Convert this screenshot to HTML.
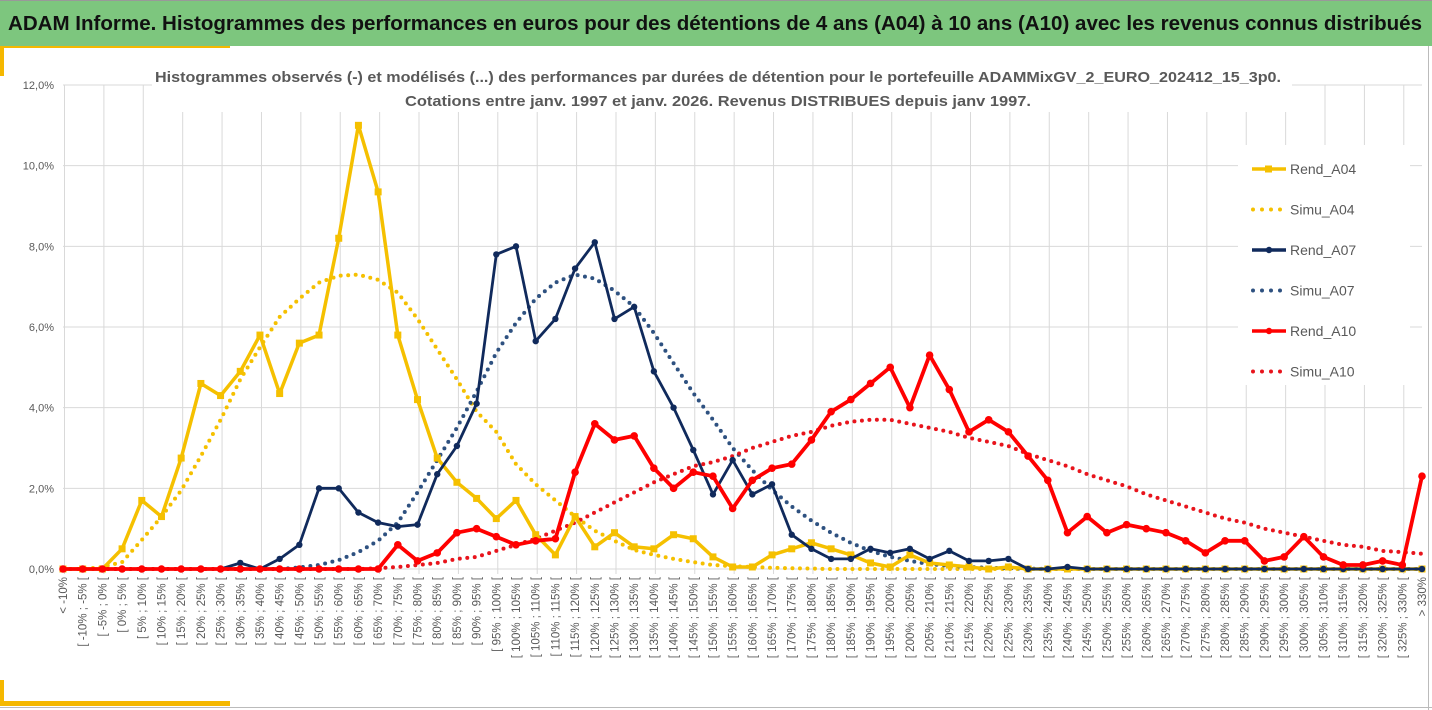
<!DOCTYPE html>
<html><head><meta charset="utf-8"><style>
html,body{margin:0;padding:0;background:#fff;}
svg{display:block;font-family:"Liberation Sans",sans-serif;}
</style></head><body>
<svg id="chart" width="1432" height="710" viewBox="0 0 1432 710" xmlns="http://www.w3.org/2000/svg">
<rect x="0" y="0" width="1432" height="710" fill="#fff"/>
<rect x="0" y="1" width="1432" height="45" fill="#7dc67e"/>
<line x1="0" y1="0.5" x2="1432" y2="0.5" stroke="#999" stroke-width="1"/>
<text x="8" y="30" font-size="20" font-weight="bold" fill="#111" textLength="1414" lengthAdjust="spacingAndGlyphs">ADAM Informe. Histogrammes des performances en euros pour des détentions de 4 ans (A04) à 10 ans (A10) avec les revenus connus distribués</text>
<rect x="0" y="46" width="230" height="2" fill="#f5b800"/>
<rect x="0" y="46" width="4" height="30" fill="#f5b800"/>
<rect x="0" y="701" width="230" height="5" fill="#f5b800"/>
<rect x="0" y="680" width="4" height="26" fill="#f5b800"/>
<line x1="1428.5" y1="46" x2="1428.5" y2="710" stroke="#bbb"/>
<line x1="0" y1="707.5" x2="1432" y2="707.5" stroke="#bbb"/>
<g id="grid"></g>
<rect x="152" y="62" width="1140" height="50" fill="#fff"/>
<text x="718" y="82" font-size="15" font-weight="bold" fill="#595959" text-anchor="middle" textLength="1126" lengthAdjust="spacingAndGlyphs">Histogrammes observés (-) et modélisés (...) des performances par durées de détention pour  le portefeuille ADAMMixGV_2_EURO_202412_15_3p0.</text>
<text x="718" y="106" font-size="15" font-weight="bold" fill="#595959" text-anchor="middle" textLength="626" lengthAdjust="spacingAndGlyphs">Cotations  entre janv. 1997 et janv. 2026. Revenus DISTRIBUES depuis janv 1997.</text>
<g id="series"></g>
<g id="xlabels"></g>
<g id="legend"></g>
</svg>
<script>
const categories = ["< -10%"];
for (let a = -10; a < 330; a += 5) categories.push("[ " + a + "% ; " + (a + 5) + "% [");
categories.push("> 330%");
const yTicks = [0, 2, 4, 6, 8, 10, 12];
const yTickLabels = ["0,0%", "2,0%", "4,0%", "6,0%", "8,0%", "10,0%", "12,0%"];
const rendA04 = [0,0,0,0.5,1.7,1.3,2.75,4.6,4.3,4.9,5.8,4.35,5.6,5.8,8.2,11.0,9.35,5.8,4.2,2.75,2.15,1.75,1.25,1.7,0.85,0.35,1.3,0.55,0.9,0.55,0.5,0.85,0.75,0.3,0.05,0.05,0.35,0.5,0.65,0.5,0.35,0.15,0.05,0.35,0.15,0.1,0.05,0,0.05,0,0,0,0,0,0,0,0,0,0,0,0,0,0,0,0,0,0,0,0,0];
const simuA04 = [0,0,0.05,0.17,0.72,1.3,1.95,2.8,3.7,4.7,5.5,6.25,6.7,7.1,7.27,7.3,7.17,6.85,6.2,5.45,4.7,3.9,3.4,2.6,2.1,1.7,1.3,0.95,0.7,0.47,0.35,0.25,0.17,0.1,0.07,0.05,0.03,0.02,0.01,0,0,0,0,0,0,0,0,0,0,0,0,0,0,0,0,0,0,0,0,0,0,0,0,0,0,0,0,0,0,0];
const rendA07 = [0,0,0,0,0,0,0,0,0,0.15,0,0.25,0.6,2.0,2.0,1.4,1.15,1.05,1.1,2.35,3.05,4.1,7.8,8.0,5.65,6.2,7.45,8.1,6.2,6.5,4.9,4.0,2.95,1.85,2.7,1.85,2.1,0.85,0.5,0.25,0.25,0.5,0.4,0.5,0.25,0.45,0.2,0.2,0.25,0,0,0.05,0,0,0,0,0,0,0,0,0,0,0,0,0,0,0,0,0,0];
const simuA07 = [0,0,0,0,0,0,0,0,0,0,0,0,0.04,0.1,0.22,0.42,0.7,1.15,1.9,2.7,3.5,4.4,5.36,6.1,6.7,7.1,7.3,7.2,6.9,6.5,5.85,5.1,4.36,3.7,3.0,2.45,1.96,1.55,1.2,0.9,0.65,0.45,0.3,0.2,0.12,0.08,0.05,0.03,0.02,0.01,0,0,0,0,0,0,0,0,0,0,0,0,0,0,0,0,0,0,0,0];
const rendA10 = [0,0,0,0,0,0,0,0,0,0,0,0,0,0,0,0,0,0.6,0.2,0.4,0.9,1.0,0.8,0.6,0.7,0.75,2.4,3.6,3.2,3.3,2.5,2.0,2.4,2.3,1.5,2.2,2.5,2.6,3.2,3.9,4.2,4.6,5.0,4.0,5.3,4.45,3.4,3.7,3.4,2.8,2.2,0.9,1.3,0.9,1.1,1.0,0.9,0.7,0.4,0.7,0.7,0.2,0.3,0.8,0.3,0.1,0.1,0.2,0.1,2.3];
const simuA10 = [0,0,0,0,0,0,0,0,0,0,0,0,0,0,0,0,0.02,0.05,0.1,0.15,0.25,0.3,0.45,0.6,0.75,0.95,1.15,1.4,1.65,1.9,2.15,2.35,2.55,2.65,2.8,3.0,3.15,3.3,3.4,3.55,3.65,3.7,3.7,3.6,3.5,3.4,3.25,3.15,3.05,2.85,2.7,2.55,2.35,2.2,2.05,1.85,1.7,1.55,1.4,1.25,1.15,1.0,0.9,0.8,0.7,0.6,0.55,0.45,0.42,0.38];

const NS = "http://www.w3.org/2000/svg";
const X0 = 63, X1 = 1422, Y0 = 569, YTOP = 85, YMAX = 12;
function xPos(i){ return X0 + i * (X1 - X0) / (categories.length - 1); }
function yPos(v){ return Y0 - v * (Y0 - YTOP) / YMAX; }
function mk(tag, attrs, parent){ const e = document.createElementNS(NS, tag); for (const k in attrs) e.setAttribute(k, attrs[k]); parent.appendChild(e); return e; }

const grid = document.getElementById("grid");
yTicks.forEach((t, k) => {
  const l = mk("line", {x1: X0, x2: X1, y1: yPos(t), y2: yPos(t), stroke: "#d9d9d9", "stroke-width": 1}, grid);
  
  
  const tx = mk("text", {x: 54, y: yPos(t) + 4, "font-size": 11, fill: "#595959", "text-anchor": "end"}, grid);
  tx.textContent = yTickLabels[k];
  
  
});
for (let i = 0; i < categories.length; i += 2) {
  const l = mk("line", {x1: xPos(i) + 1.5, x2: xPos(i) + 1.5, y1: YTOP, y2: Y0 + 5, stroke: "#d9d9d9", "stroke-width": 1}, grid);
  
  
}

const series = document.getElementById("series");
function dotted(vals, color, name){
  const d = vals.map((v, i) => (i ? "L" : "M") + xPos(i).toFixed(1) + " " + yPos(v).toFixed(1)).join(" ");
  const p = mk("path", {d: d, fill: "none", stroke: color, "stroke-width": 4, "stroke-linecap": "round", "stroke-dasharray": "0 7.5"}, series);
  
  
}
function solid(vals, color, w, marker, name){
  const d = vals.map((v, i) => (i ? "L" : "M") + xPos(i).toFixed(1) + " " + yPos(v).toFixed(1)).join(" ");
  const p = mk("path", {d: d, fill: "none", stroke: color, "stroke-width": w, "stroke-linejoin": "round"}, series);
  
  
  vals.forEach((v, i) => {
    let m;
    if (marker === "square") m = mk("rect", {x: xPos(i) - 3.5, y: yPos(v) - 3.5, width: 7, height: 7, fill: color}, series);
    else m = mk("circle", {cx: xPos(i), cy: yPos(v), r: marker === "big" ? 3.8 : 3.2, fill: color}, series);
    
    
  });
}
dotted(simuA04, "#f5c000", "simu-a04-line");
dotted(simuA07, "#2e5180", "simu-a07-line");
dotted(simuA10, "#e8141c", "simu-a10-line");
solid(rendA04, "#f5c000", 3.5, "square", "rend-a04-line");
solid(rendA07, "#102a5c", 2.8, "circle", "rend-a07-line");
solid(rendA10, "#ff0000", 3.8, "big", "rend-a10-line");

const xl = document.getElementById("xlabels");
categories.forEach((c, i) => {
  const x = xPos(i) + 4, y = 577;
  const t = mk("text", {x: x, y: y, "font-size": 11.5, fill: "#595959", "text-anchor": "end", transform: "rotate(-90 " + x + " " + y + ")"}, xl);
  t.textContent = c;
  
  
});

const lg = document.getElementById("legend");
const bg = mk("rect", {x: 1238, y: 145, width: 172, height: 240, fill: "#fff"}, lg);


const legNames = ["Rend_A04", "Simu_A04", "Rend_A07", "Simu_A07", "Rend_A10", "Simu_A10"];
const legColors = ["#f5c000", "#f5c000", "#102a5c", "#2e5180", "#ff0000", "#e8141c"];
legNames.forEach((n, k) => {
  const y = 169 + k * 40.5;
  const g = mk("g", {}, lg);
  
  
  if (k % 2 === 0) {
    mk("line", {x1: 1252, x2: 1286, y1: y, y2: y, stroke: legColors[k], "stroke-width": 3.5}, g);
    if (k === 0) mk("rect", {x: 1265, y: y - 3.5, width: 7, height: 7, fill: legColors[k]}, g);
    else mk("circle", {cx: 1269, cy: y, r: 3.2, fill: legColors[k]}, g);
  } else {
    mk("line", {x1: 1253, x2: 1281, y1: y, y2: y, stroke: legColors[k], "stroke-width": 4, "stroke-linecap": "round", "stroke-dasharray": "0 9"}, g);
  }
  const t = mk("text", {x: 1290, y: y + 5, "font-size": 14, fill: "#595959"}, g);
  t.textContent = n;
});
</script>
</body></html>
